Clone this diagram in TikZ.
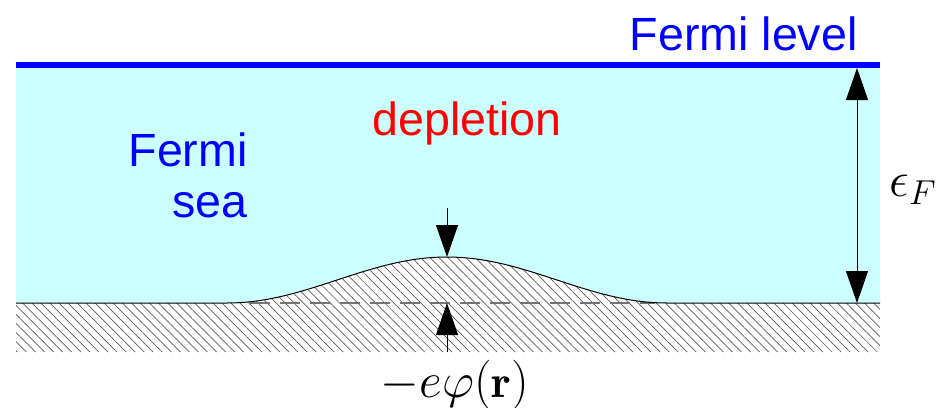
\documentclass[tikz,border=0pt]{standalone}
\usepackage{fontspec}
\usepackage{amsmath,amssymb}
\usetikzlibrary{arrows.meta,patterns.meta}
\newfontfamily\labelfont{Liberation Sans}
\definecolor{seacyan}{RGB}{204,255,255}
\definecolor{levelblue}{RGB}{0,0,255}
\definecolor{deplred}{RGB}{255,0,0}

\begin{document}
\begin{tikzpicture}[
  x=0.5pt,y=-0.5pt,
  every node/.style={inner sep=0pt},
  txt/.style={font=\labelfont\fontsize{23.3}{25.5}\selectfont},
  mathtxt/.style={font=\fontsize{23}{26}\selectfont},
  bigtip/.style={-{Triangle[length=16pt,width=11pt]}, line width=0.5pt}
]
\useasboundingbox (0,0) rectangle (947,407);

% sea and hatched floor
\fill[seacyan] (16,64) -- (16,303) -- (227,303)
  -- plot[domain=227:667,samples=80] ({\x},{303-23*(1+cos(0.81818*(\x-447)))})
  -- (880,303) -- (880,64) -- cycle;
\fill[pattern={Lines[angle=-45,distance=3.2pt,line width=0.35pt]}, pattern color=black!65]
  (16,352) -- (16,303) -- (227,303)
  -- plot[domain=227:667,samples=80] ({\x},{303-23*(1+cos(0.81818*(\x-447)))})
  -- (880,303) -- (880,352) -- cycle;
\draw[black!55, line width=0.7pt, dash pattern=on 10pt off 5pt] (250,303) -- (655,303);
\draw[line width=0.5pt] (16,303) -- (227,303)
  -- plot[domain=227:667,samples=80] ({\x},{303-23*(1+cos(0.81818*(\x-447)))})
  -- (880,303);

% Fermi level
\draw[levelblue, line width=3.2pt] (16,65) -- (880,65);
\node[txt, text=levelblue, anchor=base east] (level) at (858,50) {Fermi level};

% labels
\node[txt, text=levelblue, align=right, anchor=east] (sea) at (248,175) {Fermi\\sea};
\node[txt, text=deplred, anchor=base] (depl) at (467,135) {depletion};

% arrows
\coordinate (peaktop) at (447,208);
\coordinate (peak) at (447,257);
\coordinate (floorlow) at (447,352);
\coordinate (floorbase) at (447,303);
\coordinate (eftop) at (857,68);
\coordinate (efbot) at (857,303);
\draw[bigtip] (peaktop) -- (peak);
\draw[bigtip] (floorlow) -- (floorbase);
\draw[bigtip, {Triangle[length=16pt,width=11pt]}-{Triangle[length=16pt,width=11pt]}] (eftop) -- (efbot);

\node[mathtxt, anchor=west] (ef) at (889,190) {\(\epsilon_F\)};
\node[mathtxt, anchor=base] (phi) at (455,397) {\(-e\varphi(\mathbf{r})\)};
\end{tikzpicture}
\end{document}
